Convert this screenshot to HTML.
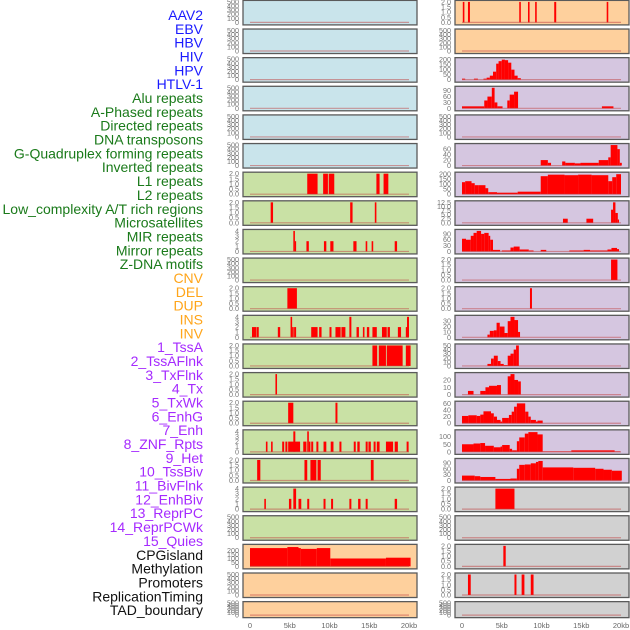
<!DOCTYPE html>
<html><head><meta charset="utf-8">
<style>
html,body{margin:0;padding:0;background:#fff;width:630px;height:630px;overflow:hidden}
svg{display:block;font-family:"Liberation Sans",sans-serif}
</style></head>
<body>
<svg id="chart" width="630" height="630" viewBox="0 0 630 630">
<g id="labels"></g>
<g id="panels"></g>
<g id="xaxes"></g>
</svg>
<script>
// ---------- DATA ----------
const trackLabels = ["AAV2","EBV","HBV","HIV","HPV","HTLV-1","Alu repeats","A-Phased repeats","Directed repeats","DNA transposons","G-Quadruplex forming repeats","Inverted repeats","L1 repeats","L2 repeats","Low_complexity A/T rich regions","Microsatellites","MIR repeats","Mirror repeats","Z-DNA motifs","CNV","DEL","DUP","INS","INV","1_TssA","2_TssAFlnk","3_TxFlnk","4_Tx","5_TxWk","6_EnhG","7_Enh","8_ZNF_Rpts","9_Het","10_TssBiv","11_BivFlnk","12_EnhBiv","13_ReprPC","14_ReprPCWk","15_Quies","CPGisland","Methylation","Promoters","ReplicationTiming","TAD_boundary"];
const labelGroups = ["v","v","v","v","v","v","r","r","r","r","r","r","r","r","r","r","r","r","r","c","c","c","c","c","s","s","s","s","s","s","s","s","s","s","s","s","s","s","s","o","o","o","o","o"];
const xTickValues = [0,5,10,15,20];
const xTickLabels = ["0","5kb","10kb","15kb","20kb"];

// left column panels (rows 0..21)
const leftFill = ["b","b","b","b","b","b","g","g","g","g","g","g","g","g","g","g","g","g","g","o","o","o"];
const leftMax = [500,500,500,500,500,500,2,2,4,500,2,4,2,2,2,4,2,4,500,260,500,500];
const leftTicks = [
 [0,100,200,300,400,500],[0,100,200,300,400,500],[0,100,200,300,400,500],[0,100,200,300,400,500],[0,100,200,300,400,500],[0,100,200,300,400,500],
 [0,0.5,1,1.5,2],[0,0.5,1,1.5,2],[0,1,2,3,4],[0,100,200,300,400,500],[0,0.5,1,1.5,2],[0,1,2,3,4],
 [0,0.5,1,1.5,2],[0,0.5,1,1.5,2],[0,0.5,1,1.5,2],[0,1,2,3,4],[0,0.5,1,1.5,2],[0,1,2,3,4],
 [0,100,200,300,400,500],[0,50,100,150,200],[0,100,200,300,400,500],[0,100,200,300,400,500]];
const leftBars = [
 [],[],[],[],[],[],
 [[7.2,8.5,2],[9.2,9.8,2],[9.9,10.6,2],[15.9,16.3,2],[16.8,17.4,2]],
 [[2.6,2.9,2],[12.6,12.9,2],[15.7,15.9,2]],
 [[5.45,5.65,4],[5.65,5.8,2],[7.1,7.4,2],[9.3,9.6,2],[10.1,10.5,2],[13.0,13.4,2],[14.55,14.75,2],[15.3,15.5,2],[18.2,18.5,2]],
 [],
 [[4.7,5.9,2]],
 [[0.25,0.8,2],[0.85,1.1,2],[3.5,3.8,2],[5.1,5.3,4],[5.3,5.5,2],[5.55,5.8,2],[7.7,8.5,2],[8.7,9.0,2],[10.0,10.25,2],[10.75,11.4,2],[11.5,12.0,2],[12.5,12.75,4],[13.4,13.7,2],[14.2,14.4,2],[14.7,15.0,2],[15.4,15.95,2],[16.6,17.2,2],[17.3,17.6,2],[18.6,19.0,2],[19.6,19.9,2],[19.75,20,4]],
 [[15.4,16.0,2],[16.2,17.1,2],[17.2,19.2,2],[19.6,20.2,2]],
 [[3.2,3.4,2]],
 [[4.8,5.45,2],[10.75,11.0,2]],
 [[2.0,2.2,2],[2.65,2.85,2],[4.05,4.3,2],[4.45,4.7,2],[4.8,6.3,2],[5.45,5.7,4],[6.7,7.1,2],[7.2,7.4,4],[7.4,7.6,2],[7.7,7.95,2],[8.35,8.6,2],[9.25,9.6,2],[10.15,10.5,2],[11.25,11.5,2],[13.05,13.3,2],[13.5,13.8,2],[14.55,14.8,2],[14.9,15.2,2],[15.55,15.8,2],[15.95,16.3,2],[17.1,18.0,2],[18.2,18.6,2],[19.7,19.95,2]],
 [[0.9,1.3,2],[6.85,7.2,2],[7.6,8.35,2],[8.5,8.9,2],[15.2,15.55,2]],
 [[1.8,2.0,2],[4.9,5.2,2],[5.45,5.8,4],[6.1,6.45,2],[7.2,7.45,2],[9.25,9.5,2],[10.2,10.45,2],[12.5,12.75,2],[13.6,13.9,2],[14.55,14.8,2],[18.2,18.5,2]],
 [],
 [[0,4.7,232],[4.7,6.1,245],[6.1,6.4,232],[6.4,8.4,222],[8.4,10.1,232],[10.1,17.1,100],[17.1,20.2,110]],
 [],[]];

// right column panels
const rightFill = ["o","o","p","p","p","p","p","p","p","p","p","p","p","p","p","p","p","y","y","y","y","y"];
const rightMax = [2,500,205,105,500,75,205,12.5,105,2,2,38,50,28,62,135,105,2,500,2,2,500];
const rightTicks = [
 [0,0.5,1,1.5,2],[0,100,200,300,400,500],[0,50,100,150,200],[0,30,60,90],[0,100,200,300,400,500],[0,20,40,60],
 [0,50,100,150,200],[0,2.5,5,7.5,10,12.5],[0,30,60,90],[0,0.5,1,1.5,2],[0,0.5,1,1.5,2],[0,10,20,30],
 [0,10,20,30,40,50],[0,10,20],[0,20,40,60],[0,50,100],[0,30,60,90],[0,0.5,1,1.5,2],
 [0,100,200,300,400,500],[0,0.5,1,1.5,2],[0,0.5,1,1.5,2],[0,100,200,300,400,500]];
const rightBars = [
 [[0.1,0.3,2],[0.75,1.0,2],[7.2,7.4,2],[8.3,8.5,2],[9.2,9.4,2],[11.6,11.85,2],[18.2,18.4,2]],
 [],
 [[0,0.4,10],[1.5,2.0,10],[2.7,3.1,10],[3.1,3.5,20],[3.5,3.9,40],[3.9,4.3,80],[4.3,4.6,160],[4.6,5.0,185],[5.0,5.4,200],[5.4,5.8,195],[5.8,6.2,170],[6.2,6.6,100],[6.6,7.0,40],[7.0,7.4,15]],
 [[0,2.8,10],[2.8,3.2,40],[3.2,3.75,60],[3.75,4.1,105],[4.1,4.45,30],[4.45,5.1,10],[5.7,6.0,40],[6.0,6.55,70],[6.55,7.05,85],[17.6,19.05,10]],
 [],
 [[9.9,10.8,20],[10.8,11.2,10],[12.6,13.0,15],[13.0,14.2,10],[14.2,14.9,8],[14.9,17.2,10],[17.2,18.4,20],[18.4,18.7,30],[18.7,19.55,75],[19.55,19.85,60],[19.85,20.1,10]],
 [[0,0.4,120],[0.4,1.2,130],[1.2,1.6,110],[1.6,2.1,90],[2.1,2.95,90],[2.95,3.3,60],[3.3,4.4,20],[4.4,7.0,15],[7.0,9.9,25],[9.9,10.8,180],[10.8,12.9,195],[12.9,14.6,190],[14.6,16.3,195],[16.3,18.4,190],[18.4,18.9,130],[18.9,19.4,170],[19.4,20.0,200]],
 [[12.7,13.3,2.5],[15.65,16.5,2.5],[18.75,19.0,8],[19.0,19.3,12.5],[19.3,19.6,6],[19.6,19.75,2]],
 [[0,0.5,65],[0.5,1.1,60],[1.1,1.45,80],[1.45,1.85,95],[1.85,2.4,105],[2.4,2.8,90],[2.8,3.35,95],[3.35,3.55,80],[3.55,3.9,60],[3.9,4.8,8],[5.0,6.1,5],[6.1,6.5,20],[6.5,7.25,25],[7.25,8.4,10],[8.4,9.0,5],[9.9,10.6,8],[13.5,15.3,5],[15.3,16.1,8],[16.1,18.3,5],[18.3,18.8,10],[18.8,19.5,18],[19.5,19.75,12]],
 [[18.75,19.55,2]],
 [[8.55,8.8,2]],
 [[3.2,3.5,5],[3.5,4.0,12],[4.0,4.35,13],[4.35,4.75,27],[4.75,5.35,20],[5.35,5.75,8],[5.75,6.1,30],[6.1,6.6,38],[6.6,7.05,32],[7.05,7.3,10]],
 [[3.2,3.65,5],[3.65,4.0,18],[4.0,4.5,25],[4.5,4.85,12],[4.85,5.25,5],[5.25,5.75,2],[5.75,6.1,25],[6.1,6.5,30],[6.5,6.8,40],[6.8,7.15,50]],
 [[0.75,1.45,5],[2.3,2.95,5],[2.95,3.4,10],[3.4,4.4,12],[4.4,4.9,13],[5.75,6.1,25],[6.1,6.6,28],[6.6,7.05,20],[7.05,7.4,18]],
 [[0,0.8,22],[0.8,1.85,24],[1.85,2.3,22],[2.3,2.7,26],[2.7,3.65,36],[3.65,4.0,30],[4.0,4.4,20],[4.4,4.85,10],[4.85,5.05,5],[5.05,5.9,16],[5.9,6.25,25],[6.25,6.55,35],[6.55,6.9,50],[6.9,7.95,60],[7.95,8.35,35],[8.35,8.65,20],[8.65,9.3,10],[9.3,9.5,5],[9.5,10.15,8]],
 [[0,1.45,50],[1.45,2.3,55],[2.3,2.9,58],[2.9,4.0,40],[4.0,4.85,30],[4.85,5.05,35],[5.05,6.0,45],[6.0,6.3,20],[6.3,6.9,10],[6.9,7.2,70],[7.2,7.9,95],[7.9,8.35,120],[8.35,9.5,130],[9.5,10.15,115],[10.15,13.75,3],[13.75,19.2,10],[19.2,19.9,3]],
 [[0,1.6,25],[1.6,2.3,22],[2.3,4.2,18],[4.2,6.1,8],[6.1,6.9,10],[6.9,7.2,60],[7.2,7.9,80],[7.9,8.65,82],[8.65,9.3,88],[9.3,9.6,95],[9.6,10.15,100],[10.15,14.0,67],[14.0,16.75,65],[16.75,17.8,60],[17.8,18.85,55],[18.85,20.1,50]],
 [[4.2,6.6,2]],
 [],
 [[5.2,5.5,2]],
 [[0.75,1.1,2],[6.6,6.85,2],[7.5,7.85,2],[8.65,9.0,2]],
 []];

// ---------- RENDER ----------
const NS="http://www.w3.org/2000/svg";
const fills={b:"#c9e4eb",g:"#c9e1a5",o:"#fed09d",p:"#d5c6e0",y:"#d1d1d1"};
const labelColors={v:"#1a1aff",r:"#1a7a1a",c:"#ffa51a",s:"#a52aff",o:"#111111"};
function mk(tag,attrs,parent){const e=document.createElementNS(NS,tag);for(const k in attrs)e.setAttribute(k,attrs[k]);parent.appendChild(e);return e;}

const labelsG=document.getElementById('labels');
trackLabels.forEach((t,i)=>{
  const el=mk('text',{x:203,y:(20+i*13.84).toFixed(1),'text-anchor':'end','font-size':'14',fill:labelColors[labelGroups[i]]},labelsG);
  el.textContent=t;
  
  
});

const panelsG=document.getElementById('panels');
function rowTop(i){return 0.4+i*28.63;}
function rowH(i){return i===21?16:24.5;}
function fmt(v,ticks){const dec=ticks.some(t=>t%1!==0);return dec?v.toFixed(1):String(v);}

function drawPanel(col,i,fill,max,ticks,bars,label){
  const px=col===0?243:455, pw=174;
  const x0=px+7, x1=px+pw-8;
  const top=rowTop(i), h=rowH(i);
  const yb=top+h-2.5, yt=top+1.5;
  const xs=kb=>x0+(x1-x0)*kb/20;
  const ys=v=>yb-(yb-yt)*v/max;
  const g=mk('g',{},panelsG);
  
  
  mk('rect',{x:px,y:top,width:pw,height:h,fill:fills[fill]},g);
  bars.forEach(b=>{
    const r=mk('rect',{x:xs(b[0]).toFixed(2),y:ys(b[2]).toFixed(2),width:Math.max(1.2,xs(b[1])-xs(b[0])).toFixed(2),height:(yb-ys(b[2])).toFixed(2),fill:'#ff0000'},g);
    
    
  });
  mk('line',{x1:xs(0),x2:xs(20),y1:yb,y2:yb,stroke:'#c04040','stroke-opacity':0.5,'stroke-width':1.2},g);
  mk('rect',{x:px,y:top,width:pw,height:h,fill:'none',stroke:'#5a5a5a','stroke-width':1.3},g);
  ticks.forEach(t=>{
    const tl=mk('text',{x:px-4,y:(ys(t)+2.5).toFixed(1),'text-anchor':'end','font-size':'7.2',fill:'#777'},g);
    tl.textContent=fmt(t,ticks);
    
    
  });
}
for(let i=0;i<22;i++){
  drawPanel(0,i,leftFill[i],leftMax[i],leftTicks[i],leftBars[i],trackLabels[2*i]);
  drawPanel(1,i,rightFill[i],rightMax[i],rightTicks[i],rightBars[i],trackLabels[2*i+1]);
}

const xg=document.getElementById('xaxes');
[243,455].forEach((px,c)=>{
  const x0=px+7,x1=px+174-8;
  xTickValues.forEach((v,k)=>{
    const t=mk('text',{x:(x0+(x1-x0)*v/20).toFixed(1),y:628,'text-anchor':'middle','font-size':'7.5',fill:'#666'},xg);
    t.textContent=xTickLabels[k];
    
    
  });
});
</script>
</body></html>
